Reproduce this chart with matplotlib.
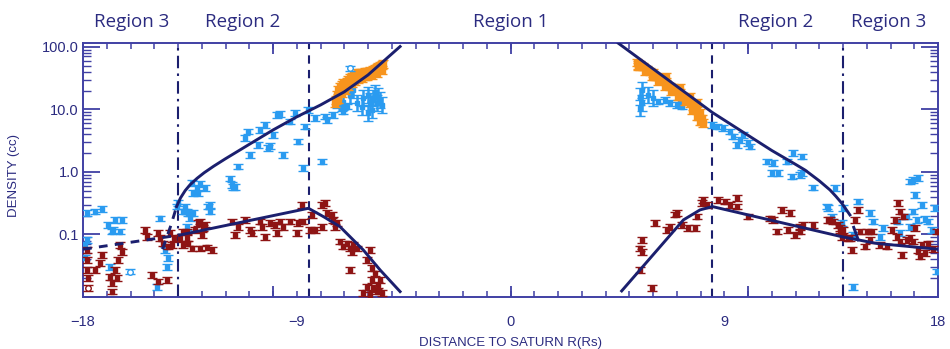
import numpy as np
import matplotlib
matplotlib.use("Agg")
import matplotlib.pyplot as plt
from matplotlib.ticker import MultipleLocator, LogLocator, NullFormatter

# ---------------- measurements ----------------
# Light-blue series (distance R in Rs, density in cc)
blue_x = [-17.84, -17.49, -17.21, -16.93, -16.72, -16.79, -16.44, -16.37, -16.65, -17.84,
          -17.92, -17.92, -16.86, -14.90, -14.76, -14.41, -14.48, -14.55, -13.99, -14.06,
          -13.63, -13.49, -13.36, -13.42, -13.07, -12.86, -13.63, -13.71, -12.65, -13.14,
          -13.36, -11.81, -11.74, -11.60, -11.46, -10.97, -11.18, -11.04, -10.62, -10.55,
          -10.34, -10.20, -10.13, -9.99, -9.84, -9.71, -9.57, -9.28, -9.07, -8.93,
          -8.65, -8.72, -8.51, -8.23, -7.81, -7.74, -7.46, -7.95, -13.78, -13.57,
          -12.72, -12.65, -13.21, -11.67, -7.32, -7.11, -6.90, -7.04,
          6.23, 6.51, 6.71, 6.99, 7.14, 7.21,
          8.47, 8.68, 8.96, 9.24, 9.38, 9.66, 9.80, 9.52, 10.01, 10.08,
          10.79, 11.07, 11.00, 11.28, 11.63, 11.91, 12.26, 11.84, 12.19, 12.75,
          13.32, 12.26, 13.66, 13.38, 13.52, 14.01, 13.94, 14.43, 14.64, 15.14,
          15.28, 15.56, 15.70, 16.33, 16.40, 16.82, 16.96, 17.17, 17.03, 17.31,
          16.96, 17.10, 17.45, 17.59, 17.88, 17.74, 17.95, 14.43, 16.68, 16.82]
blue_n = [0.218, 0.232, 0.253, 0.142, 0.118, 0.111, 0.111, 0.171, 0.171, 0.0817,
          0.068, 0.043, 0.030, 0.0146, 0.18, 0.0416, 0.0305, 0.0565, 0.315, 0.279,
          0.232, 0.181, 0.218, 0.659, 0.64, 0.548, 0.133, 0.279, 0.296, 0.456,
          0.456, 0.78, 0.62, 0.58, 1.22, 1.87, 3.46, 4.42, 2.7, 4.7,
          5.65, 2.39, 2.6, 3.91, 8.17, 8.47, 1.87, 6.38, 8.69, 3.05,
          5.3, 1.15, 9.8, 7.2, 7.67, 6.79, 8.17, 1.46, 0.232, 0.218,
          0.279, 0.232, 0.548, 0.58, 11.8, 10.4, 11.1, 9.2,
          13.3, 14.2, 12.6, 11.8, 13.3, 11.1,
          5.65, 5.3, 5.0, 4.42, 3.67, 3.25, 3.91, 2.7, 2.88, 2.54,
          1.46, 1.38, 0.953, 0.953, 1.46, 1.99, 1.76, 0.84, 0.895, 0.56,
          0.279, 0.953, 0.548, 0.262, 0.193, 0.262, 0.151, 0.098, 0.335, 0.218,
          0.16, 0.092, 0.126, 0.16, 0.105, 0.70, 0.745, 0.79, 0.43, 0.296,
          0.232, 0.171, 0.178, 0.16, 0.262, 0.118, 0.0254, 0.0146, 0.193, 0.133]

# Light-blue points carrying wide uncertainties (inner edge of each pass)
blue_wide_x = [-6.76, -6.62, -6.48, -6.27, -6.20, -5.99, -5.92, -5.78, -5.71, -5.64,
               -5.57, -5.50, -5.85, -5.99, -5.43, -7.04,
               5.52, 5.45, 5.52, 5.80, 6.00, 5.45]
blue_wide_n = [17.1, 20.5, 12.6, 11.1, 15.1, 17.1, 13.3, 15.1, 18.2, 12.6,
               16.0, 14.2, 9.8, 8.7, 11.8, 13.3,
               20.5, 16.0, 12.6, 17.1, 15.1, 10.4]

# Orange series
orange_x = [-7.36, -7.32, -7.25, -7.18, -7.11, -7.04, -6.97, -6.90, -6.83, -6.76,
            -6.69, -6.62, -6.55, -6.48, -6.41, -6.34, -6.27, -6.20, -6.13, -6.06,
            -5.99, -5.92, -5.85, -5.78, -5.71, -5.64, -5.57, -5.50, -5.43, -5.36,
            -7.39, -7.25, -7.11, -6.97, -6.83, -6.69, -6.55, -6.41, -6.27, -6.06,
            -5.85, -5.64, -5.43,
            5.31, 5.45, 5.59, 5.73, 5.87, 6.00, 6.14, 6.28, 6.42, 6.56,
            6.70, 6.85, 6.99, 7.13, 7.27, 7.41, 7.55, 7.69, 7.84, 7.98,
            8.05, 8.12, 5.38, 5.66, 5.94, 6.21, 6.49, 6.77, 7.06, 7.34,
            7.62, 7.84, 7.98, 6.56, 7.13, 7.55, 7.84, 5.37]
orange_n = [14.2, 17.1, 20.5, 23.2, 24.7, 26.2, 23.2, 27.9, 29.6, 31.6,
            33.5, 35.6, 34.3, 37.9, 35.6, 37.9, 38.8, 37.0, 40.3, 37.9,
            40.3, 41.8, 40.3, 42.9, 44.0, 45.6, 48.4, 49.7, 51.5, 53.5,
            12.6, 14.6, 18.2, 20.5, 23.2, 26.2, 27.9, 30.4, 31.6, 33.5,
            35.6, 37.9, 42.9,
            56.1, 51.5, 48.4, 42.9, 40.3, 37.9, 33.5, 31.6, 29.6, 27.9,
            23.2, 21.8, 20.5, 18.2, 16.0, 14.2, 12.6, 11.1, 9.8, 8.7,
            7.2, 6.0, 48.4, 40.3, 33.5, 27.9, 23.2, 19.3, 16.0, 13.3,
            9.8, 7.67, 6.38, 33.5, 21.8, 16.0, 12.6, 51.5]

# Dark-red series
red_x = [-17.84, -17.84, -17.84, -17.77, -17.49, -17.21, -17.28, -16.86, -16.79, -16.65,
         -16.58, -16.79, -16.44, -16.37, -16.51, -15.39, -15.32, -15.11, -14.83, -14.48,
         -14.83, -14.76, -14.62, -14.41, -14.27, -14.19, -14.34, -13.92, -13.78, -13.57,
         -13.63, -13.28, -13.14, -12.86, -13.00, -13.42, -13.07, -12.79,
         -13.78, -13.64, -13.07, -12.93, -12.58, -11.74, -11.60, -11.46, -11.18, -10.97,
         -10.90, -10.55, -10.48, -10.34, -10.13, -9.92, -9.85, -9.71, -9.57, -9.29,
         -9.00, -8.93, -8.79, -8.72, -8.44, -8.37, -8.23, -7.95, -7.95, -7.81,
         -7.74, -7.53, -7.46, -7.39, -7.32, -7.18, -7.04, -6.90, -6.76, -6.62,
         -6.69, -6.48, -5.92, -6.76, -6.06, -5.85, -5.71, -5.85, -6.06, -5.78,
         -5.57, -6.20, -5.92, -5.64, -5.43, -5.50,
         5.52, 5.45, 5.52, 5.45, 5.94, 6.09, 6.58, 6.72, 7.00, 6.93,
         7.21, 7.49, 7.77, 7.84, 8.05, 8.26, 8.12, 8.75, 9.03, 9.24,
         9.52, 9.52, 10.01, 10.93, 11.07, 11.42, 11.77, 11.21, 11.70, 11.98,
         12.19, 12.33, 12.75, 13.45, 13.59, 13.80, 13.87, 14.22,
         12.19, 13.38, 13.87, 14.01, 13.94, 14.29, 14.36, 14.50, 14.64, 14.71,
         14.99, 15.21, 14.92, 15.14, 15.56, 15.84, 16.05, 16.19, 16.33, 16.40,
         16.54, 16.26, 16.40, 16.47, 16.68, 16.82, 16.96, 17.03, 17.17, 17.24,
         17.45, 17.59, 17.80, 17.95, 17.31]
red_n = [0.0565, 0.039, 0.027, 0.0199, 0.027, 0.047, 0.0346, 0.0211, 0.0166, 0.027,
         0.0199, 0.0122, 0.068, 0.053, 0.039, 0.118, 0.092, 0.0225, 0.0176, 0.0187,
         0.1045, 0.087, 0.072, 0.064, 0.068, 0.087, 0.1045, 0.087, 0.068, 0.072,
         0.111, 0.118, 0.151, 0.144, 0.098, 0.060, 0.060, 0.062,
         0.111, 0.087, 0.16, 0.126, 0.0565, 0.16, 0.098, 0.133, 0.171, 0.118,
         0.105, 0.16, 0.133, 0.092, 0.151, 0.142, 0.105, 0.16, 0.133, 0.16,
         0.105, 0.151, 0.296, 0.16, 0.118, 0.205, 0.118, 0.133, 0.296, 0.315,
         0.218, 0.205, 0.171, 0.133, 0.151, 0.077, 0.064, 0.072, 0.060, 0.068,
         0.053, 0.060, 0.0565, 0.027, 0.039, 0.0288, 0.0239, 0.0187, 0.0146, 0.0138,
         0.0156, 0.0115, 0.0108, 0.0122, 0.0115, 0.0187,
         0.082, 0.060, 0.053, 0.027, 0.0138, 0.151, 0.118, 0.133, 0.218, 0.208,
         0.142, 0.126, 0.126, 0.193, 0.315, 0.296, 0.356, 0.356, 0.335, 0.296,
         0.279, 0.38, 0.193, 0.181, 0.171, 0.247, 0.218, 0.111, 0.118, 0.098,
         0.111, 0.142, 0.142, 0.171, 0.16, 0.142, 0.118, 0.087,
         0.133, 0.171, 0.126, 0.118, 0.092, 0.087, 0.0565, 0.171, 0.247, 0.111,
         0.111, 0.111, 0.064, 0.082, 0.068, 0.064, 0.118, 0.171, 0.315, 0.232,
         0.193, 0.092, 0.077, 0.047, 0.082, 0.087, 0.077, 0.126, 0.0565, 0.0442,
         0.05, 0.072, 0.059, 0.111, 0.068]

# Open-symbol measurements
open_blue_x = [-16.02, -6.76]
open_blue_n = [0.0254, 45.6]
open_red_x = [-17.77]
open_red_n = [0.0138]

# Model profiles
blue_fit_left_x = [-14.06, -13.9, -13.7, -13.49, -13.2, -12.9, -12.5, -12.0,
                   -11.0, -10.0, -9.0, -8.0, -7.0, -6.0, -4.65]
blue_fit_left_n = [0.279, 0.381, 0.502, 0.625, 0.789, 0.970, 1.233, 1.626,
                   2.76, 4.68, 7.59, 11.75, 19.05, 35.5, 101.0]
blue_ext_left_x = [-14.65, -14.30, -14.06]
blue_ext_left_n = [0.058, 0.14, 0.279]
red_fit_left_x = [-13.92, -8.51, -7.88, -7.18, -6.20, -5.49, -4.65]
red_fit_left_n = [0.098, 0.262, 0.193, 0.133, 0.0565, 0.027, 0.0122]
red_ext_left_x = [-18.0, -15.3, -13.92]
red_ext_left_n = [0.058, 0.082, 0.098]
blue_fit_right_x = [4.54, 8.50, 11.0, 12.0, 12.4, 13.0, 13.45, 13.7, 13.95, 14.29]
blue_fit_right_n = [114.0, 8.9, 2.2, 1.32, 1.07, 0.72, 0.515, 0.407, 0.315, 0.205]
blue_drop_right_x = [14.45, 14.64]
blue_drop_right_n = [0.13, 0.082]
red_fit_right_x = [4.68, 7.28, 7.98, 8.50, 13.95, 15.4, 18.0]
red_fit_right_n = [0.0125, 0.171, 0.247, 0.279, 0.092, 0.072, 0.058]

# Region boundaries
inner_bounds = [-8.5, 8.5]
outer_bounds = [-14.0, 14.0]
region_names = ["Region 3", "Region 2", "Region 1", "Region 2", "Region 3"]
region_centres = [-15.94, -11.26, 0.0, 11.18, 15.94]

x_ticks = [-18, -9, 0, 9, 18]
x_tick_labels = ["\u221218", "\u22129", "0", "9", "18"]
y_ticks = [0.01, 0.1, 1, 10, 100]
y_tick_labels = ["", "0.1", "1.0", "10.0", "100.0"]

# ---------------- styling ----------------
BLUE = "#2a9bf0"
ORANGE = "#f7941d"
RED = "#8e1414"
NAVY = "#1b1f6e"
AXIS = "#4040a4"
TEXT = "#2b2b80"

fig = plt.figure(figsize=(9.5, 3.49), dpi=100)
ax = fig.add_axes([0.0874, 0.149, 0.9, 0.7264])


def draw_points(x, n, color, spread, mfc=None, marker="s", ms=3.5, z=3, lw=1.8):
    x = np.asarray(x, float)
    n = np.asarray(n, float)
    f = 10 ** spread
    yerr = np.vstack([n - n / f, n * f - n])
    ax.errorbar(x, n, yerr=yerr, fmt=marker, color=color, ms=ms,
                mfc=color if mfc is None else mfc, mec=color, mew=1.0,
                elinewidth=lw, capsize=3.3, capthick=1.8, zorder=z)


draw_points(blue_x, blue_n, BLUE, 0.045)
draw_points(blue_wide_x, blue_wide_n, BLUE, 0.13)
draw_points(orange_x, orange_n, ORANGE, 0.06, ms=4.5, z=4, lw=3.0)
draw_points(open_blue_x, open_blue_n, BLUE, 0.04, mfc="white", marker="o", ms=4, z=5)
draw_points(red_x, red_n, RED, 0.045, z=5)
draw_points(open_red_x, open_red_n, RED, 0.05, mfc="white", marker="o", ms=4, z=5)

fit_style = dict(color=NAVY, lw=2.1, zorder=6)
ax.plot(blue_fit_left_x, blue_fit_left_n, **fit_style)
ax.plot(blue_ext_left_x, blue_ext_left_n, ls=(0, (3, 2.5)), **fit_style)
ax.plot(red_fit_left_x, red_fit_left_n, **fit_style)
ax.plot(red_ext_left_x, red_ext_left_n, ls=(0, (3, 2.5)), **fit_style)
ax.plot(blue_fit_right_x, blue_fit_right_n, **fit_style)
ax.plot(blue_drop_right_x, blue_drop_right_n, **fit_style)
ax.plot(red_fit_right_x, red_fit_right_n, **fit_style)

for xb in inner_bounds:
    ax.axvline(xb, color=NAVY, lw=1.5, ls=(0, (4, 3)), zorder=2)
for xb in outer_bounds:
    ax.axvline(xb, color=NAVY, lw=1.5, ls=(0, (6, 2.5, 1.2, 2.5)), zorder=2)

ax.set_xlim(-18, 18)
ax.set_yscale("log")
ax.set_ylim(0.01, 113)

for sp in ax.spines.values():
    sp.set_color(AXIS)
    sp.set_linewidth(1.4)

ax.set_xticks(x_ticks)
ax.set_xticklabels(x_tick_labels)
ax.xaxis.set_minor_locator(MultipleLocator(1))
ax.tick_params(axis="x", which="both", direction="in", length=4, width=1.1,
               top=True, bottom=True, color=AXIS, labelcolor=TEXT,
               labelsize=10.5, pad=13)

ax.set_yticks(y_ticks)
ax.set_yticklabels(y_tick_labels)
ax.yaxis.set_minor_locator(LogLocator(base=10, subs=np.arange(2, 10)))
ax.yaxis.set_minor_formatter(NullFormatter())
ax.tick_params(axis="y", which="major", direction="in", length=12, width=1.3,
               left=True, right=True, color=AXIS, labelcolor=TEXT,
               labelsize=10.5, pad=3)
ax.tick_params(axis="y", which="minor", direction="in", length=6, width=1.0,
               left=True, right=True, color=AXIS)

# longer ticks every ten Rs
for side in ("bottom", "top"):
    sec = ax.secondary_xaxis(side)
    sec.set_xticks([-10, 0, 10])
    sec.set_xticklabels([])
    sec.tick_params(direction="in", length=8, width=1.3, color=AXIS)
    sec.spines[side].set_visible(False)

for lab in ax.get_xticklabels() + ax.get_yticklabels():
    lab.set_family("Liberation Sans")

ax.set_xlabel("DISTANCE TO SATURN R(Rs)", family="Liberation Sans",
              fontsize=9.5, color=TEXT)
ax.xaxis.set_label_coords(0.5, -0.158)
ax.set_ylabel("DENSITY (cc)", family="Liberation Sans", fontsize=9.5, color=TEXT)
ax.yaxis.set_label_coords(-0.0737, 0.48)

for name, xc in zip(region_names, region_centres):
    ax.text(xc, 1.085, name, transform=ax.get_xaxis_transform(), ha="center",
            va="center", family="Open Sans", fontsize=13.5, color=TEXT)

fig.savefig("out.png", dpi=100)
